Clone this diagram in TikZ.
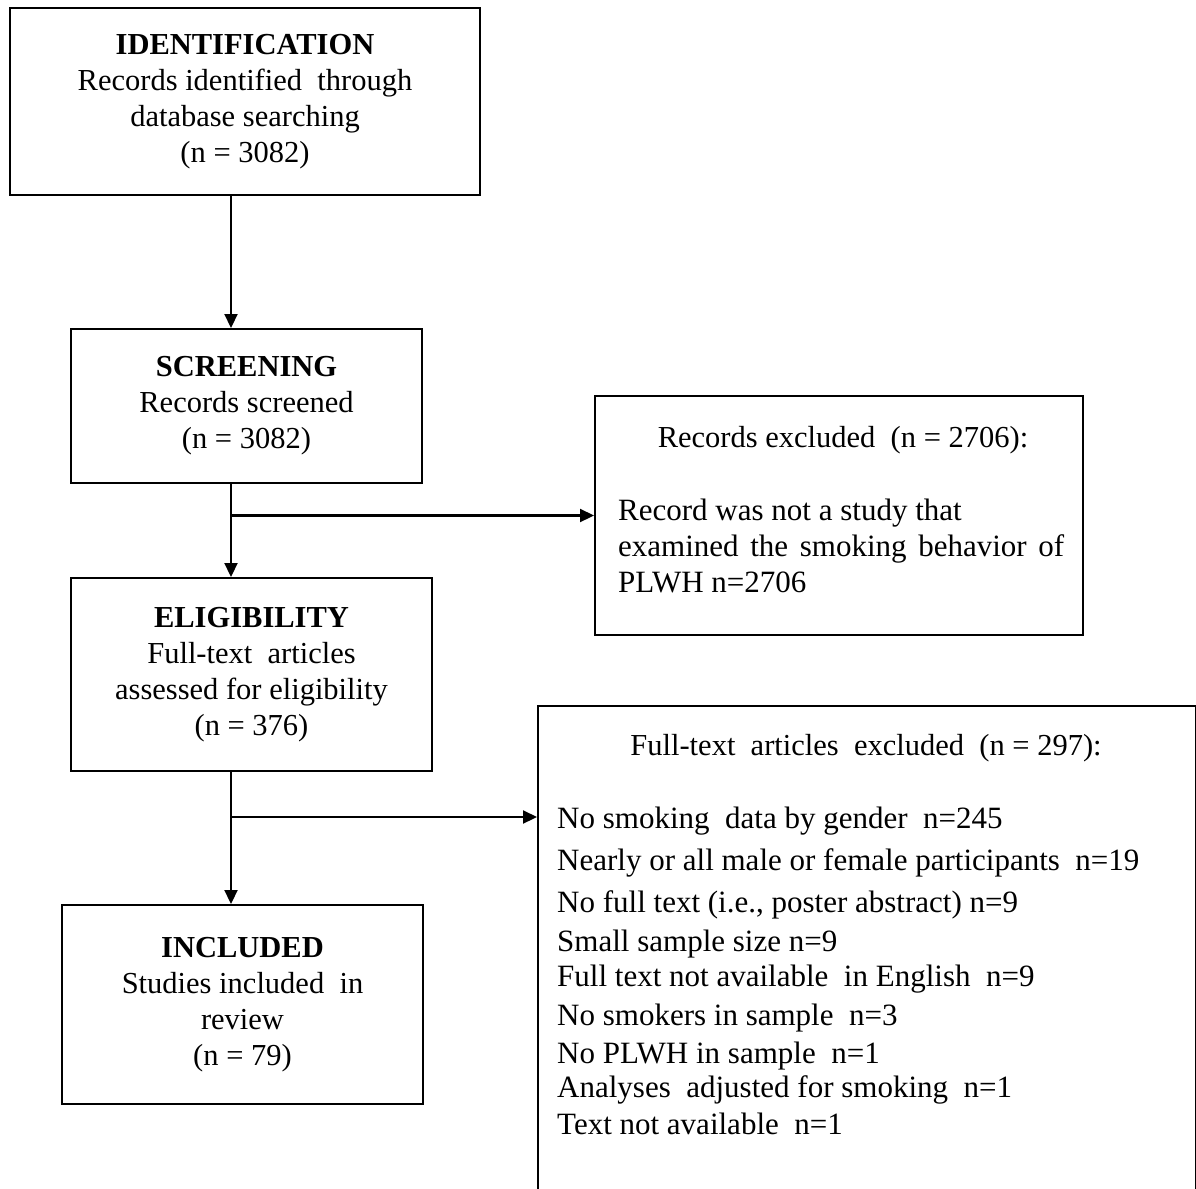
\documentclass[tikz,border=0pt]{standalone}
\usepackage{fontspec}
\setmainfont{Liberation Serif}
\usetikzlibrary{arrows.meta}
\begin{document}
\begin{tikzpicture}[x=1pt,y=-1pt,
  box/.style={draw,line width=2pt,rectangle,inner sep=0pt,align=center,
    font=\fontsize{30.5}{36}\selectfont},
  txt/.style={anchor=base west,inner sep=0pt,font=\fontsize{31}{36}\selectfont},
  ctxt/.style={anchor=base,inner sep=0pt,font=\fontsize{30.5}{36}\selectfont},
  conn/.style={line width=2.2pt},
  arr/.style={line width=2.2pt,-{Triangle[length=14pt,width=13pt]}}]
\useasboundingbox (0,0) rectangle (1196,1188);
\clip (0,0) rectangle (1196,1188);
\fill[white] (0,0) rectangle (1196,1188);

\node[box,minimum width=470pt,minimum height=187pt] (b1) at (245,101.5)
  {\textbf{IDENTIFICATION}\\Records identified\ \ through\\database searching\\(n = 3082)};
\node[box,minimum width=351pt,minimum height=154pt] (b2) at (246.5,406)
  {\textbf{SCREENING}\\Records screened\\(n = 3082)};
\node[box,minimum width=361pt,minimum height=193pt] (b4) at (251.5,674.5)
  {\textbf{ELIGIBILITY}\\Full-text\ \ articles\\assessed for eligibility\\(n = 376)};
\node[box,minimum width=361pt,minimum height=199pt] (b6) at (242.5,1004.5)
  {\textbf{INCLUDED}\\Studies included\ \ in\\review\\(n = 79)};

\node[box,minimum width=488pt,minimum height=239pt] (b3) at (839,515.5) {};
\node[ctxt] (t3h) at (843,447) {Records excluded\ \ (n = 2706):};
\node[txt] (t31) at (618,520) {Record was not a study that};
\node[txt] (t32) at (618,556) {\makebox[446pt][s]{examined the smoking behavior of}};
\node[txt] (t33) at (618,592) {PLWH n=2706};

\node[box,minimum width=658pt,minimum height=520pt,anchor=north west] (b5) at (537,705) {};
\node[ctxt] (t5h) at (866,755) {Full-text\ \ articles\ \ excluded\ \ (n = 297):};
\node[txt] (l1) at (557,828) {No smoking\ \ data by gender\ \ n=245};
\node[txt] (l2) at (557,870) {Nearly or all male or female participants\ \ n=19};
\node[txt] (l3) at (557,912) {No full text (i.e., poster abstract) n=9};
\node[txt] (l4) at (557,951) {Small sample size n=9};
\node[txt] (l5) at (557,986) {Full text not available\ \ in English\ \ n=9};
\node[txt] (l6) at (557,1025) {No smokers in sample\ \ n=3};
\node[txt] (l7) at (557,1063) {No PLWH in sample\ \ n=1};
\node[txt] (l8) at (557,1097) {Analyses\ \ adjusted for smoking\ \ n=1};
\node[txt] (l9) at (557,1134) {Text not available\ \ n=1};

\coordinate (ax) at (231,0);
\coordinate (j2) at (231,817);
\draw[arr] (b1.south -| ax) -- (b2.north -| ax);
\draw[arr] (b2.south -| ax) -- (b4.north -| ax);
\draw[arr] (ax |- b3.west) -- (b3.west);
\draw[arr] (b4.south -| ax) -- (b6.north -| ax);
\draw[arr] (j2) -- (j2 -| b5.west);
\end{tikzpicture}
\end{document}
